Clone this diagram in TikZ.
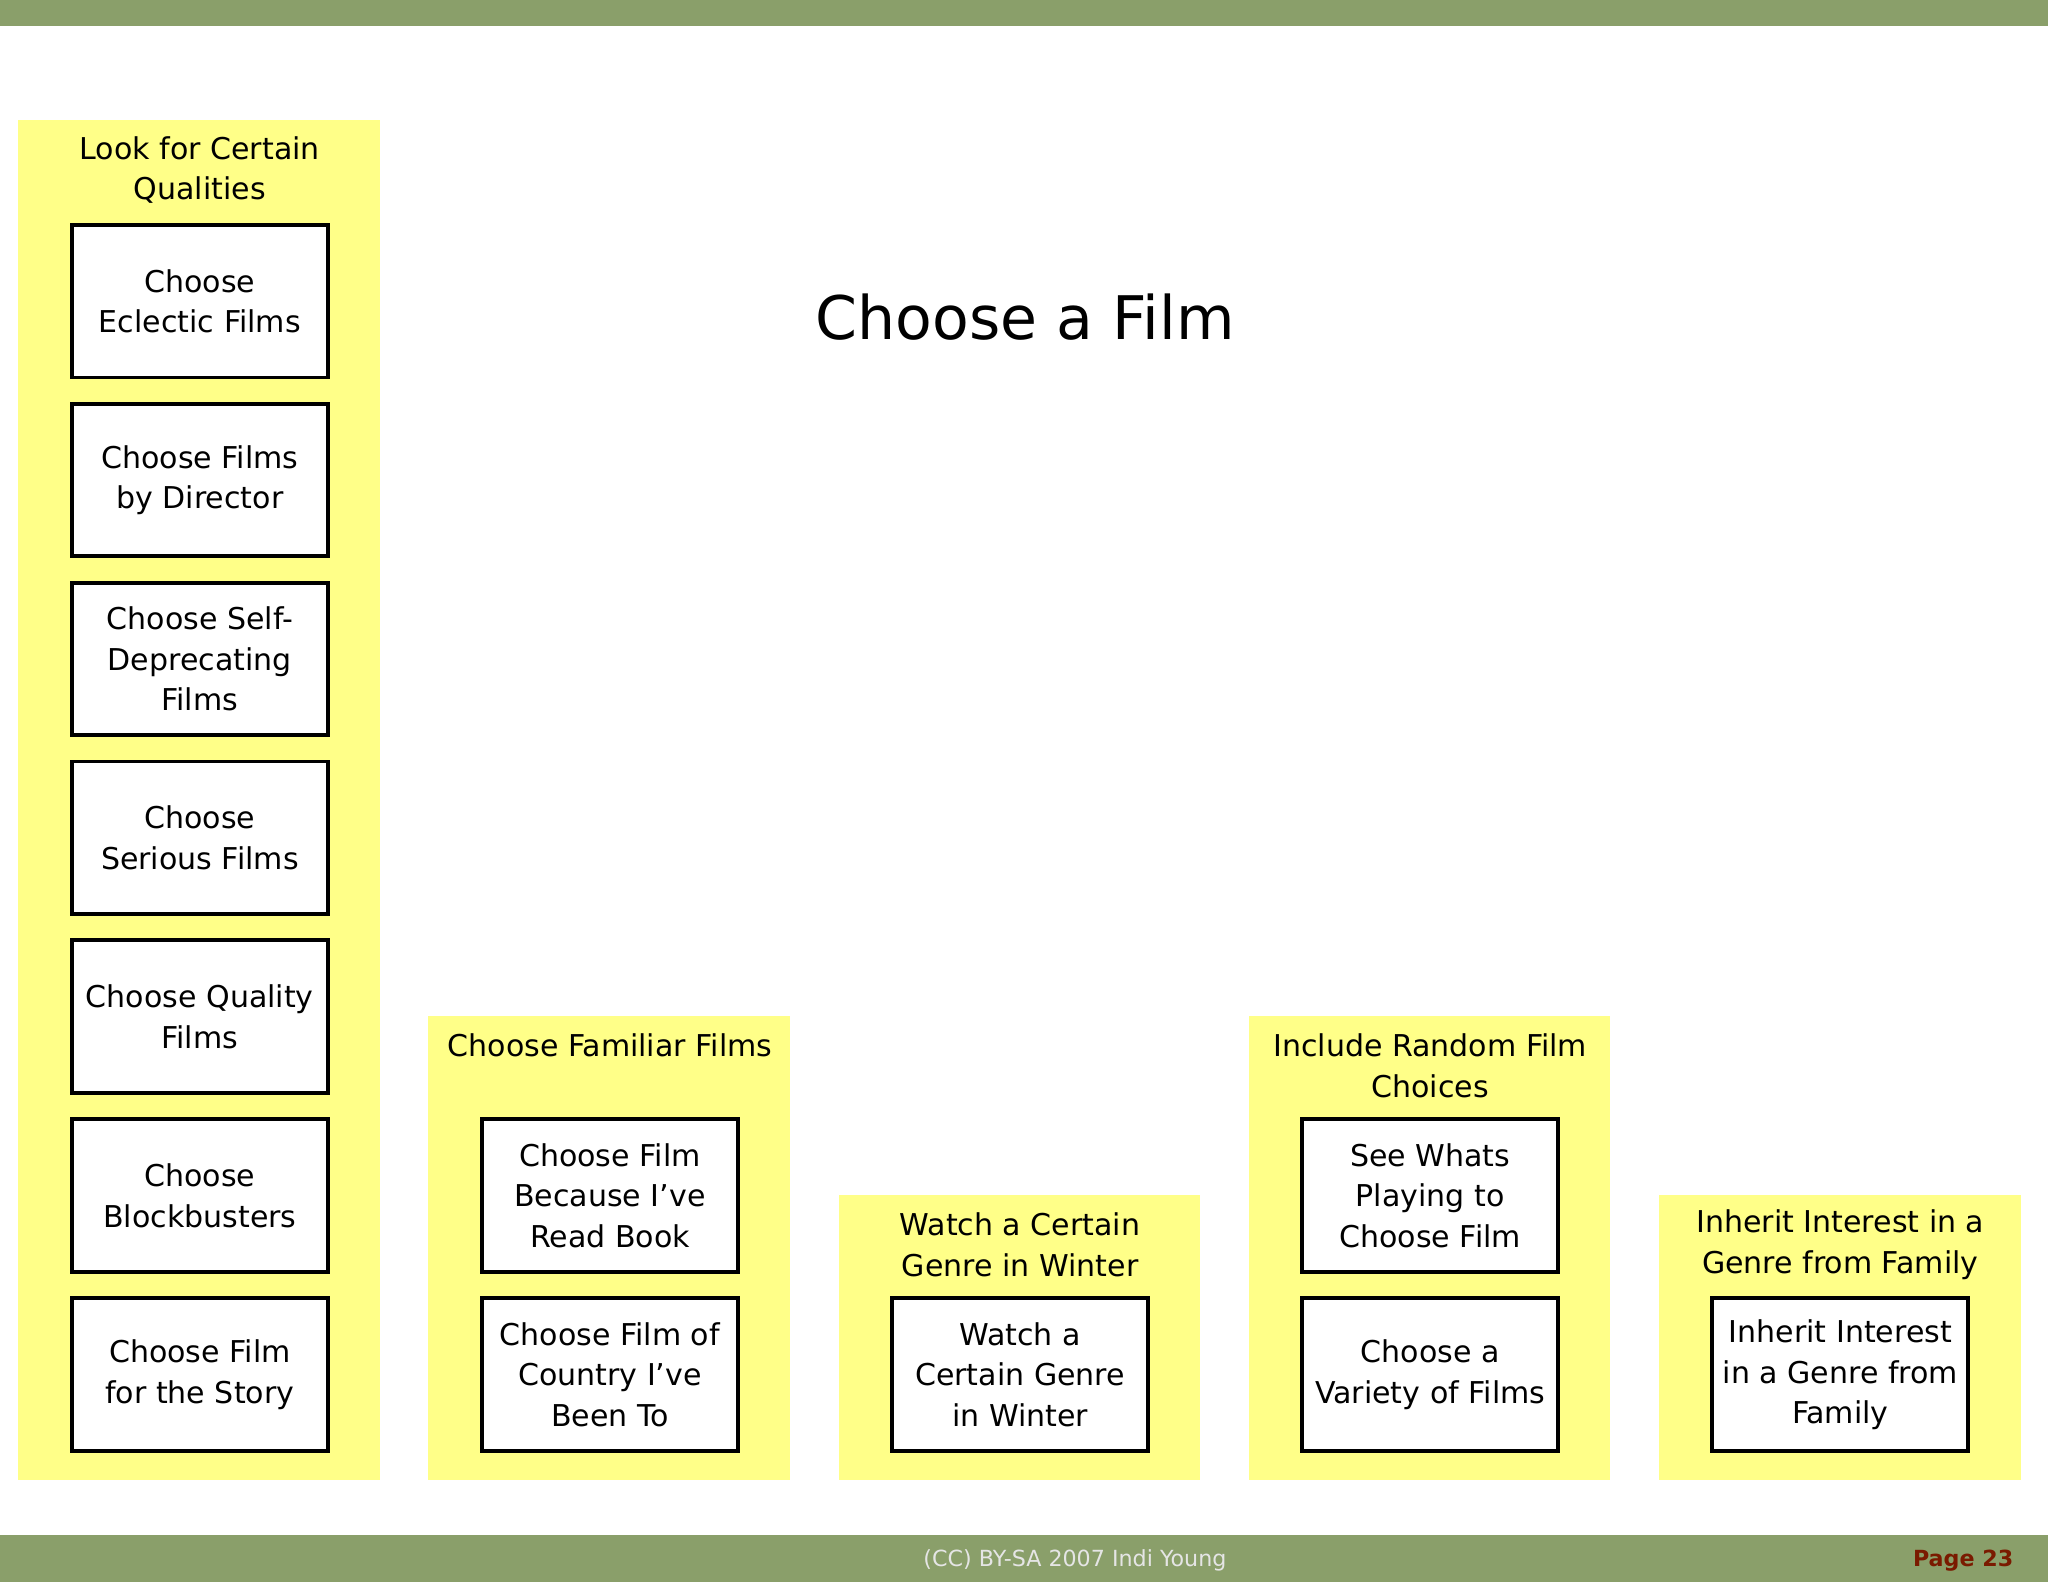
\documentclass[tikz,border=0pt]{standalone}
\usepackage{fontspec}
\setmainfont{DejaVu Sans}
\definecolor{bar}{HTML}{8A9F6A}
\definecolor{ylw}{HTML}{FFFF88}
\definecolor{pg}{HTML}{7A1A00}
\begin{document}
\begin{tikzpicture}[x=0.5pt,y=-0.5pt,
  col/.style={fill=ylw,draw=none},
  box/.style={draw=black,line width=1.5pt,fill=white,minimum width=98pt,minimum height=58.5pt,align=center,font=\fontsize{11.5}{15.5}\selectfont,inner sep=1pt},
  hdr/.style={align=center,font=\fontsize{11.5}{15.5}\selectfont}]
\useasboundingbox (0,0) rectangle (1568,1211);
\fill[bar] (0,0) rectangle (1568,20);
\fill[bar] (0,1175) rectangle (1568,1211);
\node[text=white!90!black,font=\fontsize{8.5}{10}\selectfont] (cc) at (823,1195) {(CC) BY-SA 2007 Indi Young};
\node[text=pg,font=\bfseries\fontsize{8.5}{10}\selectfont] (pg) at (1503,1195) {Page 23};
\node[font=\fontsize{23}{28}\selectfont] (title) at (785,243) {Choose a Film};
\fill[col] (14,92) rectangle (291,1133);
\fill[col] (328,778) rectangle (605,1133);
\fill[col] (642,915) rectangle (919,1133);
\fill[col] (956,778) rectangle (1233,1133);
\fill[col] (1270,915) rectangle (1547,1133);
\node[hdr] (h1) at (153,130) {Look for Certain\\Qualities};
\node[hdr] (h2) at (467,800) {Choose Familiar Films};
\node[hdr] (h3) at (781,953) {Watch a Certain\\Genre in Winter};
\node[hdr] (h4) at (1095,816) {Include Random Film\\Choices};
\node[hdr] (h5) at (1409,953) {Inherit Interest in a\\Genre from Family};
\node[box] (a1) at (153,230.5) {Choose\\Eclectic Films};
\node[box] (a2) at (153,367.5) {Choose Films\\by Director};
\node[box] (a3) at (153,504.5) {Choose Self-\\Deprecating\\Films};
\node[box] (a4) at (153,641.5) {Choose\\Serious Films};
\node[box] (a5) at (153,778.5) {Choose Quality\\Films};
\node[box] (a6) at (153,915.5) {Choose\\Blockbusters};
\node[box] (a7) at (153,1052.5) {Choose Film\\for the Story};
\node[box] (b1) at (467,915.5) {Choose Film\\Because I’ve\\Read Book};
\node[box] (b2) at (467,1052.5) {Choose Film of\\Country I’ve\\Been To};
\node[box] (c1) at (781,1052.5) {Watch a\\Certain Genre\\in Winter};
\node[box] (d1) at (1095,915.5) {See Whats\\Playing to\\Choose Film};
\node[box] (d2) at (1095,1052.5) {Choose a\\Variety of Films};
\node[box] (e1) at (1409,1052.5) {Inherit Interest\\in a Genre from\\Family};
\end{tikzpicture}
\end{document}
